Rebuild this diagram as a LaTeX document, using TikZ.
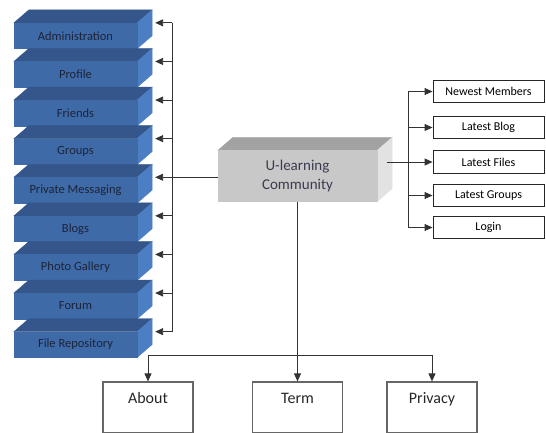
\documentclass[tikz,border=0pt]{standalone}
\usepackage{fontspec}
\setmainfont{Carlito}
\usepackage{tikz}
\usetikzlibrary{arrows.meta,positioning}
\usetikzlibrary{calc}

\definecolor{bluefront}{HTML}{3F6AA8}
\definecolor{bluetop}{HTML}{34568A}
\definecolor{blueside}{HTML}{4C7EC4}
\definecolor{bluetext}{HTML}{1C2438}
\definecolor{grayfront}{HTML}{C8C8C8}
\definecolor{graytop}{HTML}{A2A2A2}
\definecolor{grayside}{HTML}{E2E2E2}
\definecolor{graytext}{HTML}{3B3B4F}

\tikzset{
  faces/.style 2 args={append after command={\pgfextra{
    \filldraw[fill=#1, draw=#1, line width=0.3pt] (\tikzlastnode.north west) -- ++(15,-13) -- ([shift={(15,-13)}]\tikzlastnode.north east) -- (\tikzlastnode.north east) -- cycle;
    \filldraw[fill=#2, draw=#2, line width=0.3pt] (\tikzlastnode.north east) -- ++(15,-13) -- ([shift={(15,-13)}]\tikzlastnode.south east) -- (\tikzlastnode.south east) -- cycle;
  }}},
  bluebox/.style={rectangle, fill=bluefront, draw=bluefront, line width=0.3pt, text=bluetext, minimum width=123pt, minimum height=25.6pt, inner sep=0pt, font=\fontsize{12.5}{14}\selectfont, faces={bluetop}{blueside}},
  graybox/.style={rectangle, fill=grayfront, draw=grayfront, line width=0.3pt, text=graytext, minimum width=159pt, minimum height=51pt, inner sep=0pt, align=center, font=\fontsize{15}{19}\selectfont, faces={graytop}{grayside}},
  sidebox/.style={rectangle, draw=black!85, line width=0.9pt, minimum width=111pt, minimum height=22.5pt, inner sep=0pt, font=\fontsize{12}{14}\selectfont},
  pagebox/.style={rectangle, draw=black!60, line width=1.2pt, minimum width=90pt, minimum height=51pt, inner sep=0pt},
  pagelabel/.style={anchor=north, yshift=-8pt, text height=11pt, text depth=3pt, font=\fontsize{16}{18}\selectfont, text=black!85},
  conn/.style={draw=black!80, line width=0.9pt},
  arr/.style={conn, -{Triangle[length=8pt,width=7pt]}}
}

\begin{document}
\begin{tikzpicture}[x=1pt,y=-1pt]
\useasboundingbox (0,0) rectangle (546,433);
\node[bluebox] (admin) at (75.5,35.8) {Administration};
\node[bluebox] (profile) at (75.5,74.4) {Profile};
\node[bluebox] (friends) at (75.5,113) {Friends};
\node[bluebox] (groups) at (75.5,151.6) {Groups};
\node[bluebox] (pm) at (75.5,190.2) {Private Messaging};
\node[bluebox] (blogs) at (75.5,228.8) {Blogs};
\node[bluebox] (photo) at (75.5,267.4) {Photo Gallery};
\node[bluebox] (forum) at (75.5,306) {Forum};
\node[bluebox] (filerepo) at (75.5,344.6) {File Repository};
\node[graybox] (central) at (297.5,176) {U-learning\\Community};
\node[sidebox] (newest) at (488.5,91.5) {Newest Members};
\node[sidebox] (blog) at (488.5,127.5) {Latest Blog};
\node[sidebox] (files) at (488.5,162) {Latest Files};
\node[sidebox] (lgroups) at (488.5,195.5) {Latest Groups};
\node[sidebox] (login) at (488.5,227.5) {Login};
\node[pagebox, label={[pagelabel]north:About}] (about) at (148,407.5) {};
\node[pagebox, label={[pagelabel]north:Term}] (term) at (297.5,407.5) {};
\node[pagebox, label={[pagelabel]north:Privacy}] (privacy) at (432,407.5) {};
\coordinate (lbus) at (172,0);
\coordinate (rbus) at (408,0);
\coordinate (hbus) at (0,355);
\draw[conn] (lbus |- admin.north) -- (lbus |- filerepo.north);
\draw[arr] (lbus |- admin.north) -- ([xshift=18pt]admin.north east);
\draw[arr] (lbus |- profile.north) -- ([xshift=18pt]profile.north east);
\draw[arr] (lbus |- friends.north) -- ([xshift=18pt]friends.north east);
\draw[arr] (lbus |- groups.north) -- ([xshift=18pt]groups.north east);
\draw[arr] (central.west |- pm.north) -- ([xshift=18pt]pm.north east);
\draw[arr] (lbus |- blogs.north) -- ([xshift=18pt]blogs.north east);
\draw[arr] (lbus |- photo.north) -- ([xshift=18pt]photo.north east);
\draw[arr] (lbus |- forum.north) -- ([xshift=18pt]forum.north east);
\draw[arr] (lbus |- filerepo.north) -- ([xshift=18pt]filerepo.north east);
\draw[conn] (rbus |- newest.west) -- (rbus |- login.west);
\draw[arr] (rbus |- newest.west) -- (newest.west);
\draw[arr] (rbus |- blog.west) -- (blog.west);
\draw[arr] ([xshift=10pt]central.east |- files.west) -- (files.west);
\draw[arr] (rbus |- lgroups.west) -- (lgroups.west);
\draw[arr] (rbus |- login.west) -- (login.west);
\draw[conn] (about.north |- hbus) -- (privacy.north |- hbus);
\draw[arr] (about.north |- hbus) -- (about.north);
\draw[arr] (central.south) -- (term.north);
\draw[arr] (privacy.north |- hbus) -- (privacy.north);
\end{tikzpicture}
\end{document}
